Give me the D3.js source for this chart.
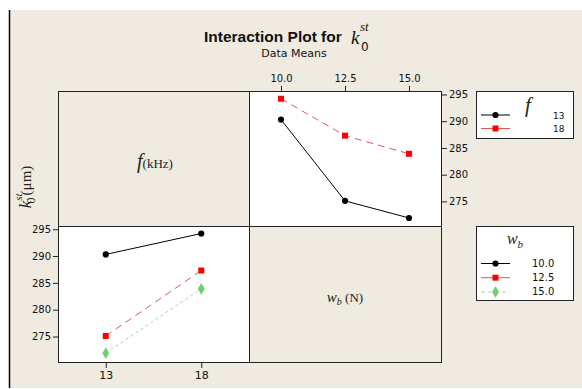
<!DOCTYPE html>
<html>
<head>
<meta charset="utf-8">
<script src="https://cdn.jsdelivr.net/npm/d3@7"></script>
<style>
  body { margin: 0; background: #fff; }
  svg { display: block; }
</style>
</head>
<body>
<div id="chart"></div>
<script>
const width = 582, height = 389;

// data means
const wbLevels = ["10.0", "12.5", "15.0"];
const fLevels = ["13", "18"];
const meansF13 = [290.3, 275.1, 271.9];   // f = 13, over wb
const meansF18 = [294.2, 287.3, 283.9];   // f = 18, over wb
const yTicks = [275, 280, 285, 290, 295];

const styles = [
  { color: "#000", line: "#000", dash: null, shape: d3.symbolCircle, size: 30 },
  { color: "#f00", line: "#e0575a", dash: "7,5", shape: d3.symbolSquare, size: 36 },
  { color: "#6fcf6f", line: "#9fd89f", dash: "3,3", shape: d3.symbolDiamond, size: 40 }
];

const svg = d3.select("#chart").append("svg")
    .attr("width", width)
    .attr("height", height);

// beige background + left rule
svg.append("rect").attr("x", 9).attr("y", 10).attr("width", width - 9).attr("height", height - 11)
    .attr("fill", "#efebe1");
svg.append("line").attr("x1", 9.5).attr("x2", 9.5).attr("y1", 10).attr("y2", height - 1)
    .attr("stroke", "#000").attr("stroke-width", 1.5);

// title
svg.append("text")
    .attr("x", 204).attr("y", 42)
    .attr("font-family", "Liberation Sans, Arial, sans-serif")
    .attr("font-weight", "bold")
    .attr("font-size", "15.5px")
    .attr("fill", "#111")
    .text("Interaction Plot for");
svg.append("text").attr("x", 351).attr("y", 44)
    .attr("font-family", "Liberation Serif, serif").attr("font-style", "italic")
    .attr("font-size", "19px").attr("fill", "#111").text("k");
svg.append("text").attr("x", 360).attr("y", 31)
    .attr("font-family", "Liberation Serif, serif").attr("font-style", "italic")
    .attr("font-size", "13px").attr("fill", "#111").text("st");
svg.append("text").attr("x", 361).attr("y", 51)
    .attr("font-family", "DejaVu Sans, sans-serif")
    .attr("font-size", "12px").attr("fill", "#111").text("0");

svg.append("text")
    .attr("x", 294).attr("y", 57)
    .attr("text-anchor", "middle")
    .attr("font-family", "DejaVu Sans, sans-serif")
    .attr("font-size", "11px")
    .attr("fill", "#111")
    .text("Data Means");

// panel grid
const x0 = 58, x1 = 249, x2 = 441;
const y0 = 91, y1 = 226, y2 = 362;

svg.append("rect").attr("x", x1).attr("y", y0).attr("width", x2 - x1).attr("height", y1 - y0).attr("fill", "#fff");
svg.append("rect").attr("x", x0).attr("y", y1).attr("width", x1 - x0).attr("height", y2 - y1).attr("fill", "#fff");

const grid = svg.append("g").attr("stroke", "#222").attr("fill", "none").attr("stroke-width", 1);
grid.append("rect").attr("x", x0 + 0.5).attr("y", y0 + 0.5).attr("width", x2 - x0).attr("height", y2 - y0);
grid.append("line").attr("x1", x1 + 0.5).attr("x2", x1 + 0.5).attr("y1", y0).attr("y2", y2 + 1);
grid.append("line").attr("x1", x0).attr("x2", x2 + 1).attr("y1", y1 + 0.5).attr("y2", y1 + 0.5);

// scales
const yTop = d3.scaleLinear().domain([270.4, 295.65]).range([y1, y0]);
const yBot = d3.scaleLinear().domain([270.25, 295.6]).range([y2, y1]);
const xTop = d3.scalePoint().domain(wbLevels).range([x1, x2]).padding(0.5);
const xBot = d3.scalePoint().domain(fLevels).range([x0, x1]).padding(0.5);

function styleAxis(g) {
  g.selectAll("path").remove();
  g.selectAll("line").attr("stroke", "#222");
  g.selectAll("text").attr("font-family", "DejaVu Sans, sans-serif").attr("font-size", "10px").attr("fill", "#111");
}

svg.append("g").attr("transform", `translate(0,${y0})`)
    .call(d3.axisTop(xTop).tickSize(5).tickPadding(4)).call(styleAxis);
svg.append("g").attr("transform", `translate(${x2 + 1},0)`)
    .call(d3.axisRight(yTop).tickValues(yTicks).tickSize(5).tickPadding(2)).call(styleAxis);
svg.append("g").attr("transform", `translate(${x0},0)`)
    .call(d3.axisLeft(yBot).tickValues(yTicks).tickSize(5).tickPadding(2)).call(styleAxis);
svg.append("g").attr("transform", `translate(0,${y2 + 1})`)
    .call(d3.axisBottom(xBot).tickSize(5).tickPadding(3)).call(styleAxis)
    .selectAll("text").attr("font-size", "11px");

// series
const topSeries = [meansF13, meansF18];
const botSeries = wbLevels.map((_, i) => [meansF13[i], meansF18[i]]);

function drawSeries(series, levels, xs, ys) {
  series.forEach((vals, i) => {
    const st = styles[i];
    const pts = vals.map((v, j) => [xs(levels[j]), ys(v)]);
    svg.append("path")
        .attr("d", d3.line()(pts))
        .attr("fill", "none")
        .attr("stroke", st.line)
        .attr("stroke-width", 1)
        .attr("stroke-dasharray", st.dash);
    pts.forEach(p => {
      svg.append("path")
          .attr("d", d3.symbol().type(st.shape).size(st.size)())
          .attr("transform", `translate(${p[0]},${p[1]})`)
          .attr("fill", st.color);
    });
  });
}
drawSeries(topSeries, wbLevels, xTop, yTop);
drawSeries(botSeries, fLevels, xBot, yBot);

// label panels
const fLab = svg.append("text")
    .attr("x", 155).attr("y", 168)
    .attr("text-anchor", "middle")
    .attr("font-family", "Liberation Serif, serif")
    .attr("fill", "#222");
fLab.append("tspan").attr("font-style", "italic").attr("font-size", "20px").text("f");
fLab.append("tspan").attr("font-size", "13px").text("(kHz)");

const wLab = svg.append("text")
    .attr("x", 345).attr("y", 302)
    .attr("text-anchor", "middle")
    .attr("font-family", "Liberation Serif, serif")
    .attr("fill", "#222");
wLab.append("tspan").attr("font-style", "italic").attr("font-size", "15px").text("w");
wLab.append("tspan").attr("font-style", "italic").attr("font-size", "10px").attr("dy", 3).text("b");
wLab.append("tspan").attr("font-size", "13px").attr("dy", -3).text(" (N)");

// y axis title
const yLab = svg.append("text")
    .attr("transform", "translate(31,187) rotate(-90)")
    .attr("text-anchor", "middle")
    .attr("font-family", "Liberation Serif, serif")
    .attr("fill", "#222");
yLab.append("tspan").attr("font-style", "italic").attr("font-size", "17px").text("k");
yLab.append("tspan").attr("font-style", "italic").attr("font-size", "11px").attr("dy", -9).text("st");
yLab.append("tspan").attr("font-size", "12px").attr("dx", -10).attr("dy", 13).text("0");
yLab.append("tspan").attr("font-size", "15px").attr("dx", 2).attr("dy", -4).text("(μm)");

// legends
function legend(yTop, h, titleFn) {
  const g = svg.append("g");
  g.append("rect").attr("x", 476.5).attr("y", yTop + 0.5).attr("width", 97).attr("height", h)
      .attr("fill", "#fff").attr("stroke", "#222");
  titleFn(g);
  return g;
}

const legF = legend(91, 47, g => {
  g.append("text").attr("x", 528).attr("y", 112)
      .attr("text-anchor", "middle")
      .attr("font-family", "Liberation Serif, serif").attr("font-style", "italic")
      .attr("font-size", "21px").attr("fill", "#222").text("f");
});
fLevels.forEach((lab, i) => {
  const y = 115 + i * 13.5, st = styles[i];
  legF.append("line").attr("x1", 481).attr("x2", 510).attr("y1", y).attr("y2", y)
      .attr("stroke", st.line).attr("stroke-width", 1);
  legF.append("path").attr("d", d3.symbol().type(st.shape).size(st.size)())
      .attr("transform", `translate(495.5,${y})`).attr("fill", st.color);
  legF.append("text").attr("x", 553).attr("y", y + 3.5)
      .attr("font-family", "DejaVu Sans, sans-serif").attr("font-size", "9px").attr("fill", "#111").text(lab);
});

const legW = legend(226, 74, g => {
  const t = g.append("text").attr("x", 515).attr("y", 244)
      .attr("text-anchor", "middle")
      .attr("font-family", "Liberation Serif, serif").attr("font-style", "italic").attr("fill", "#222");
  t.append("tspan").attr("font-size", "16px").text("w");
  t.append("tspan").attr("font-size", "11px").attr("dy", 4).text("b");
});
wbLevels.forEach((lab, i) => {
  const y = 263.5 + i * 14.2, st = styles[i];
  legW.append("line").attr("x1", 481).attr("x2", 510).attr("y1", y).attr("y2", y)
      .attr("stroke", st.line).attr("stroke-width", 1).attr("stroke-dasharray", i === 2 ? "4,3" : null);
  legW.append("path").attr("d", d3.symbol().type(st.shape).size(st.size)())
      .attr("transform", `translate(495.5,${y})`).attr("fill", st.color);
  legW.append("text").attr("x", 532).attr("y", y + 3.5)
      .attr("font-family", "DejaVu Sans, sans-serif").attr("font-size", "10px").attr("fill", "#111").text(lab);
});
</script>
</body>
</html>
